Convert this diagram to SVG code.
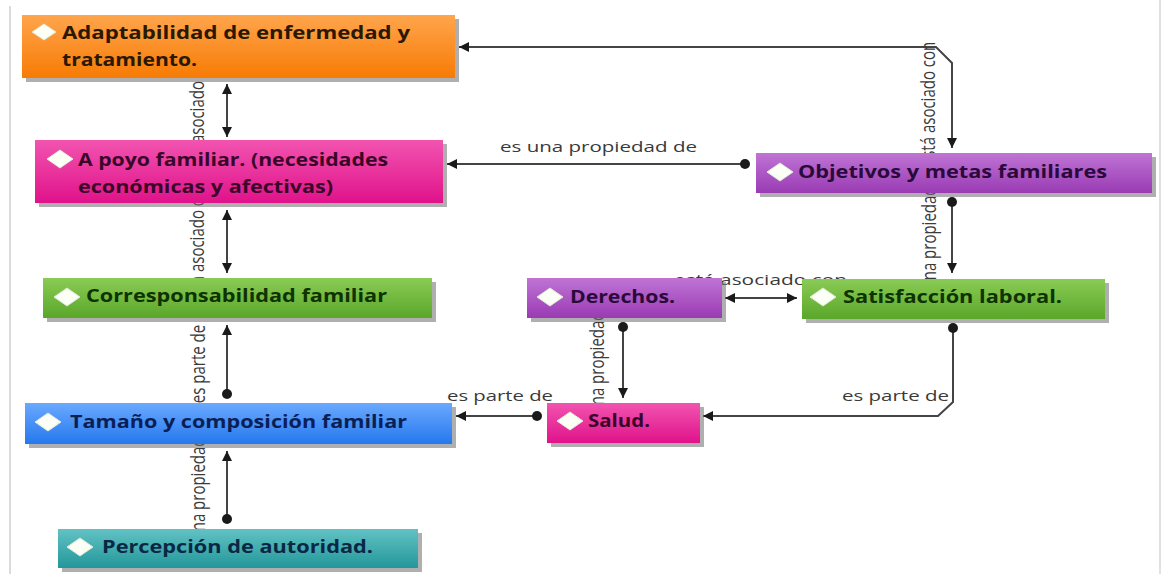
<svg xmlns="http://www.w3.org/2000/svg" width="1164" height="574" viewBox="0 0 1164 574">
<defs>
<style>
.nt{font-family:"Open Sans","Liberation Sans",sans-serif;font-weight:700;font-size:17px}
.lb{font-family:"Open Sans","Liberation Sans",sans-serif;font-size:15px;fill:#3a3a3a}
.ln{fill:none;stroke:#444;stroke-width:2}
.sh{fill:#6e6e6e;opacity:0.55}
.dm{fill:#fbfff6;stroke:#dfe9d6;stroke-width:1}
</style>
<linearGradient id="gOr" x1="0" y1="0" x2="0" y2="1"><stop offset="0" stop-color="#ffa54c"/><stop offset="1" stop-color="#f77b05"/></linearGradient>
<linearGradient id="gPk" x1="0" y1="0" x2="0" y2="1"><stop offset="0" stop-color="#f254b0"/><stop offset="1" stop-color="#e0128a"/></linearGradient>
<linearGradient id="gGr" x1="0" y1="0" x2="0" y2="1"><stop offset="0" stop-color="#8acb55"/><stop offset="1" stop-color="#5aa72a"/></linearGradient>
<linearGradient id="gBl" x1="0" y1="0" x2="0" y2="1"><stop offset="0" stop-color="#6aa9ff"/><stop offset="1" stop-color="#2578ee"/></linearGradient>
<linearGradient id="gTl" x1="0" y1="0" x2="0" y2="1"><stop offset="0" stop-color="#62c2c4"/><stop offset="1" stop-color="#23979a"/></linearGradient>
<linearGradient id="gPu" x1="0" y1="0" x2="0" y2="1"><stop offset="0" stop-color="#bf74d4"/><stop offset="1" stop-color="#9a3bb4"/></linearGradient>
<marker id="arr" viewBox="0 0 10 10" refX="10" refY="5" markerWidth="10" markerHeight="12" markerUnits="userSpaceOnUse" orient="auto-start-reverse"><path d="M0,0 L10,5 L0,10 z" fill="#1a1a1a"/></marker>
<marker id="dot" viewBox="0 0 10 10" refX="5" refY="5" markerWidth="10" markerHeight="10" markerUnits="userSpaceOnUse"><circle cx="5" cy="5" r="5" fill="#1a1a1a"/></marker>
</defs>
<rect x="0" y="0" width="1164" height="574" fill="#ffffff"/>
<line x1="10" y1="6" x2="10" y2="574" stroke="#cfcfcf" stroke-width="1.5"/>
<line x1="1160" y1="0" x2="1160" y2="574" stroke="#d6d6d6" stroke-width="1.5"/>

<g id="connectors">
<path class="ln" d="M227,84 L227,137" marker-start="url(#arr)" marker-end="url(#arr)"/>
<path class="ln" d="M227,210 L227,273" marker-start="url(#arr)" marker-end="url(#arr)"/>
<path class="ln" d="M227,394 L227,325" marker-start="url(#dot)" marker-end="url(#arr)"/>
<path class="ln" d="M227,519 L227,451" marker-start="url(#dot)" marker-end="url(#arr)"/>
<path class="ln" d="M952,148 L952,63 L936,47 L459,47" marker-start="url(#arr)" marker-end="url(#arr)"/>
<path class="ln" d="M745,164 L447,164" marker-start="url(#dot)" marker-end="url(#arr)"/>
<path class="ln" d="M952,202 L952,273" marker-start="url(#dot)" marker-end="url(#arr)"/>
<path class="ln" d="M725,298 L797,298" marker-start="url(#arr)" marker-end="url(#arr)"/>
<path class="ln" d="M623,327 L623,398" marker-start="url(#dot)" marker-end="url(#arr)"/>
<path class="ln" d="M537,416 L456,416" marker-start="url(#dot)" marker-end="url(#arr)"/>
<path class="ln" d="M953,328 L953,402 L938,416 L703,416" marker-start="url(#dot)" marker-end="url(#arr)"/>

<text class="lb" text-anchor="middle" transform="translate(204,114) scale(1.36,1) rotate(-90)">está asociado con</text>
<text class="lb" text-anchor="middle" transform="translate(204,243) scale(1.36,1) rotate(-90)">está asociado con</text>
<text class="lb" text-anchor="middle" transform="translate(205,364) scale(1.36,1) rotate(-90)">es parte de</text>
<text class="lb" text-anchor="middle" transform="translate(205,488) scale(1.36,1) rotate(-90)">es una propiedad de</text>
<text class="lb" text-anchor="middle" transform="translate(935,104) scale(1.36,1) rotate(-90)">está asociado con</text>
<text class="lb" text-anchor="middle" transform="translate(936,237) scale(1.36,1) rotate(-90)">es una propiedad de</text>
<text class="lb" text-anchor="middle" transform="translate(604,362) scale(1.36,1) rotate(-90)">es una propiedad de</text>
<text class="lb" x="500" y="152" textLength="197" lengthAdjust="spacingAndGlyphs">es una propiedad de</text>
<text class="lb" x="674" y="285" textLength="173" lengthAdjust="spacingAndGlyphs">está asociado con</text>
<text class="lb" x="447" y="401" textLength="106" lengthAdjust="spacingAndGlyphs">es parte de</text>
<text class="lb" x="842" y="401" textLength="107" lengthAdjust="spacingAndGlyphs">es parte de</text>
</g>

<g id="n-adaptabilidad">
<rect class="sh" x="26" y="19" width="433" height="63"/>
<rect x="22" y="15" width="433" height="63" fill="url(#gOr)"/>
<polygon class="dm" points="32,32 44,24 56,32 44,40"/>
<text class="nt" fill="#2a1800" x="62" y="39" textLength="348" lengthAdjust="spacingAndGlyphs">Adaptabilidad de enfermedad y</text>
<text class="nt" fill="#2a1800" x="62" y="66" textLength="135" lengthAdjust="spacingAndGlyphs">tratamiento.</text>
</g>

<g id="n-apoyo">
<rect class="sh" x="39" y="144" width="408" height="63"/>
<rect x="35" y="140" width="408" height="63" fill="url(#gPk)"/>
<polygon class="dm" points="47,159 60,150 73,159 60,168"/>
<text class="nt" fill="#3a0628" x="78" y="166" textLength="310" lengthAdjust="spacingAndGlyphs">A poyo familiar. (necesidades</text>
<text class="nt" fill="#3a0628" x="78" y="193" textLength="255" lengthAdjust="spacingAndGlyphs">económicas y afectivas)</text>
</g>

<g id="n-corresponsabilidad">
<rect class="sh" x="47" y="282" width="389" height="40"/>
<rect x="43" y="278" width="389" height="40" fill="url(#gGr)"/>
<polygon class="dm" points="54,297 67,288 80,297 67,306"/>
<text class="nt" fill="#0f3300" x="86" y="302" textLength="301" lengthAdjust="spacingAndGlyphs">Corresponsabilidad familiar</text>
</g>

<g id="n-tamano">
<rect class="sh" x="29" y="407" width="427" height="41"/>
<rect x="25" y="403" width="427" height="41" fill="url(#gBl)"/>
<polygon class="dm" points="35,422 48,413 61,422 48,431"/>
<text class="nt" fill="#0a1f55" x="70" y="428" textLength="337" lengthAdjust="spacingAndGlyphs">Tamaño y composición familiar</text>
</g>

<g id="n-percepcion">
<rect class="sh" x="62" y="533" width="360" height="39"/>
<rect x="58" y="529" width="360" height="39" fill="url(#gTl)"/>
<polygon class="dm" points="67,547 80,538 93,547 80,556"/>
<text class="nt" fill="#0a2845" x="102" y="553" textLength="271" lengthAdjust="spacingAndGlyphs">Percepción de autoridad.</text>
</g>

<g id="n-objetivos">
<rect class="sh" x="760" y="157" width="396" height="40"/>
<rect x="756" y="153" width="396" height="40" fill="url(#gPu)"/>
<polygon class="dm" points="767,172 780,163 793,172 780,181"/>
<text class="nt" fill="#2a0a3a" x="798" y="178" textLength="309" lengthAdjust="spacingAndGlyphs">Objetivos y metas familiares</text>
</g>

<g id="n-derechos">
<rect class="sh" x="531" y="282" width="195" height="40"/>
<rect x="527" y="278" width="195" height="40" fill="url(#gPu)"/>
<polygon class="dm" points="537,297 550,288 563,297 550,306"/>
<text class="nt" fill="#2a0a3a" x="570" y="303" textLength="105" lengthAdjust="spacingAndGlyphs">Derechos.</text>
</g>

<g id="n-satisfaccion">
<rect class="sh" x="806" y="283" width="303" height="40"/>
<rect x="802" y="279" width="303" height="40" fill="url(#gGr)"/>
<polygon class="dm" points="810,297 823,288 836,297 823,306"/>
<text class="nt" fill="#0f3300" x="843" y="303" textLength="219" lengthAdjust="spacingAndGlyphs">Satisfacción laboral.</text>
</g>

<g id="n-salud">
<rect class="sh" x="551" y="407" width="153" height="40"/>
<rect x="547" y="403" width="153" height="40" fill="url(#gPk)"/>
<polygon class="dm" points="557,421 570,412 583,421 570,430"/>
<text class="nt" fill="#3a0628" x="588" y="427" textLength="62" lengthAdjust="spacingAndGlyphs">Salud.</text>
</g>
</svg>
